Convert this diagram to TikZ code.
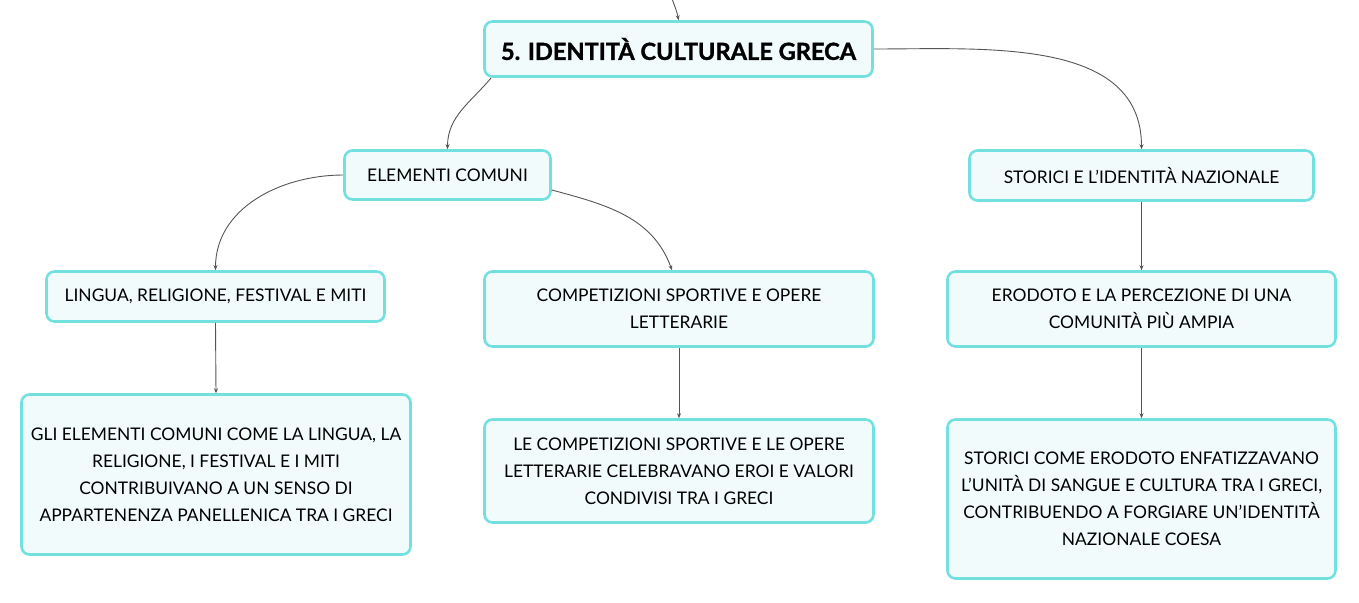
\documentclass[tikz,border=0pt]{standalone}
\usepackage{fontspec}
\setmainfont{Lato}
\newfontfamily\titlefont{Lato}[BoldFeatures={FakeBold=1.3}]
\usetikzlibrary{arrows.meta}
\definecolor{bord}{HTML}{72E0DF}
\definecolor{boxfill}{HTML}{F2FBFC}
\definecolor{conn}{HTML}{555555}
\tikzset{
  box/.style={draw=bord, fill=boxfill, line width=2.6pt, rounded corners=8pt,
    align=center, inner sep=0pt, font=\fontsize{17.4}{27}\selectfont},
  titlebox/.style={box, font=\titlefont\fontsize{23.6}{28}\bfseries\selectfont},
  conn/.style={draw=conn, line width=0.9pt, -{Stealth[length=5pt,width=4pt]}}
}
\begin{document}
\begin{tikzpicture}[x=1pt,y=1pt]
\useasboundingbox (0,0) rectangle (1359,-602);
\node[titlebox, minimum width=388pt, minimum height=55pt] (title) at (678.5,-49) {5. IDENTITÀ CULTURALE GRECA};
\node[box, minimum width=206pt, minimum height=49pt] (elem) at (447.5,-175) {ELEMENTI COMUNI};
\node[box, minimum width=344pt, minimum height=50pt] (stor) at (1141.5,-175.5) {STORICI E L'IDENTITÀ NAZIONALE};
\node[box, minimum width=338pt, minimum height=50pt] (ling) at (215.5,-296.5) {LINGUA, RELIGIONE, FESTIVAL E MITI};
\node[box, minimum width=389pt, minimum height=75pt] (comp) at (679,-309) {COMPETIZIONI SPORTIVE E OPERE\\LETTERARIE};
\node[box, minimum width=388pt, minimum height=75pt] (erod) at (1141.5,-309) {ERODOTO E LA PERCEZIONE DI UNA\\COMUNITÀ PIÙ AMPIA};
\node[box, minimum width=389pt, minimum height=160pt] (gli) at (216,-474.5) {GLI ELEMENTI COMUNI COME LA LINGUA, LA\\RELIGIONE, I FESTIVAL E I MITI\\CONTRIBUIVANO A UN SENSO DI\\APPARTENENZA PANELLENICA TRA I GRECI};
\node[box, minimum width=389pt, minimum height=103pt] (le) at (679,-471) {LE COMPETIZIONI SPORTIVE E LE OPERE\\LETTERARIE CELEBRAVANO EROI E VALORI\\CONDIVISI TRA I GRECI};
\node[box, minimum width=388pt, minimum height=159pt] (stc) at (1141.5,-499) {STORICI COME ERODOTO ENFATIZZAVANO\\L'UNITÀ DI SANGUE E CULTURA TRA I GRECI,\\CONTRIBUENDO A FORGIARE UN'IDENTITÀ\\NAZIONALE COESA};
\coordinate (top) at (670,8);
\draw[conn] (top) to[out=-75, in=100] (title.north);
\draw[conn] ([xshift=8pt]title.south west) to[out=230, in=90] (elem.north);
\draw[conn] (title.east) to[out=0, in=90] (stor.north);
\draw[conn] (elem.west) to[out=180, in=90] (ling.north);
\draw[conn] ([yshift=-15pt]elem.east) to[out=-15, in=110] ([xshift=-7pt]comp.north);
\draw[conn] (ling.south) -- (gli.north);
\draw[conn] (comp.south) -- (le.north);
\draw[conn] (stor.south) -- (erod.north);
\draw[conn] (erod.south) -- (stc.north);
\end{tikzpicture}
\end{document}
